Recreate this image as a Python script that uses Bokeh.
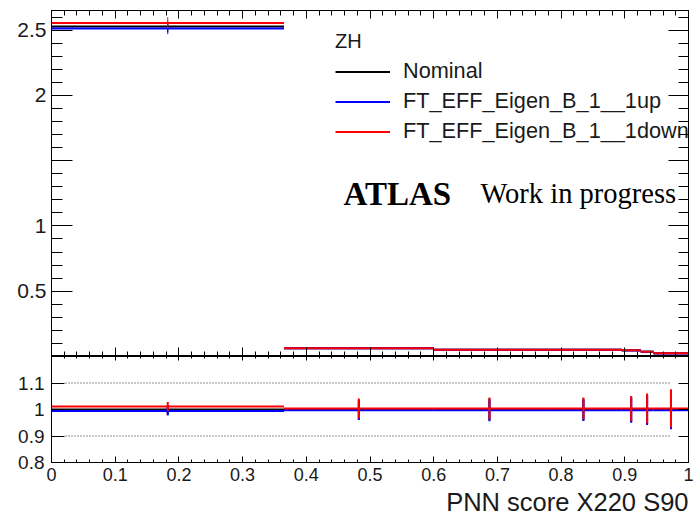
import numpy as np
from bokeh.plotting import figure
from bokeh.models import (Range1d, LinearAxis, SingleIntervalTicker, FixedTicker,
                          Label, Legend, LegendItem, CustomJSTickFormatter, Title)
from bokeh.layouts import column
from bokeh.embed import file_html
from bokeh.resources import INLINE

# ---------------- data ----------------
bin_edges = [0.0, 0.365, 0.6, 0.775, 0.895, 0.925, 0.945, 1.0]
nominal = [2.527, 0.0630, 0.0521, 0.0515, 0.0470, 0.0370, 0.0240]
var_1up = [2.512, 0.06281, 0.05194, 0.05135, 0.04686, 0.03689, 0.02393]
var_1down = [2.555, 0.06325, 0.05231, 0.05171, 0.04719, 0.03715, 0.02410]
rel_stat_err = [0.017, 0.037, 0.041, 0.041, 0.047, 0.056, 0.072]

series_names = ["Nominal", "FT_EFF_Eigen_B_1__1up", "FT_EFF_Eigen_B_1__1down"]
series_colors = ["black", "#0000ff", "#ff0000"]
legend_title = "ZH"
x_title = "PNN score X220 S90"
top_hidden_labels = [0, 1.5]
ratio_ref_levels = [0.9, 1.0, 1.1]
ratio_ref_x = [0.022, 0.972]
ratio_ticks = [0.8, 0.9, 1.0, 1.1]

FONT = "Liberation Sans"
SERIF = "Liberation Serif"
TXT = "#1a1a1a"

edges = np.array(bin_edges)
lo, hi = edges[:-1], edges[1:]
centers = 0.5 * (lo + hi)
nom = np.array(nominal)
series = [nom, np.array(var_1up), np.array(var_1down)]
rel = np.array(rel_stat_err)


def make_formatter(hidden=()):
    hid = ",".join(str(h) for h in hidden)
    code = ("const hid = [%s];\n"
            "for (const h of hid) { if (Math.abs(tick - h) < 1e-9) return ''; }\n"
            "return (Math.round(tick*1000)/1000).toString();") % hid
    return CustomJSTickFormatter(code=code)


def add_axis(fig, side, ticker, tick_in, minor_in, label_size=None, standoff=0, hidden=()):
    ax = LinearAxis(ticker=ticker, major_tick_in=tick_in, major_tick_out=0,
                    minor_tick_in=minor_in, minor_tick_out=0,
                    axis_line_color="black", major_tick_line_color="black",
                    minor_tick_line_color="black",
                    formatter=make_formatter(hidden))
    if label_size is None:
        ax.major_label_text_font_size = "0px"
        ax.major_label_standoff = 0
    else:
        ax.major_label_text_font_size = label_size
        ax.major_label_text_font = FONT
        ax.major_label_text_color = TXT
        ax.major_label_standoff = standoff
    fig.add_layout(ax, side)
    return ax


# ---------------- top panel ----------------
top = figure(width=695, height=356, x_range=Range1d(0, 1), y_range=Range1d(0, 2.65),
             output_backend="svg", toolbar_location=None,
             min_border_left=51, min_border_right=7, min_border_top=10, min_border_bottom=0,
             x_axis_location=None, y_axis_location=None)
top.xgrid.visible = False
top.ygrid.visible = False
top.outline_line_color = "black"
top.background_fill_color = "white"
top.border_fill_color = "white"

add_axis(top, "left", SingleIntervalTicker(interval=0.5, num_minor_ticks=5), 21, 11,
         label_size="21px", standoff=5, hidden=top_hidden_labels)
add_axis(top, "right", SingleIntervalTicker(interval=0.5, num_minor_ticks=5), 20, 10)
add_axis(top, "above", SingleIntervalTicker(interval=0.1, num_minor_ticks=5), 8, 5)
add_axis(top, "below", SingleIntervalTicker(interval=0.1, num_minor_ticks=5), 9, 5)

renderers = []
for vals, col in zip(series, series_colors):
    r = top.segment(x0=lo, x1=hi, y0=vals, y1=vals, line_color=col, line_width=2)
    err = vals * rel
    top.segment(x0=centers, x1=centers, y0=vals - err, y1=vals + err,
                line_color=col, line_width=1)
    renderers.append(r)

legend = Legend(items=[LegendItem(label=n, renderers=[r]) for n, r in zip(series_names, renderers)],
                title=legend_title, location=(284, 212),
                title_text_font=FONT, title_text_font_size="20px", title_text_font_style="normal",
                title_text_color=TXT, title_standoff=5,
                label_text_font=FONT, label_text_font_size="21.7px", label_text_color=TXT,
                glyph_width=55, glyph_height=25, label_height=25, label_standoff=13,
                spacing=4, padding=0, margin=0,
                border_line_alpha=0, background_fill_alpha=0)
top.add_layout(legend, "center")

top.add_layout(Label(x=292, y=163, x_units="screen", y_units="screen", text="ATLAS",
                     text_font=SERIF, text_font_style="bold", text_font_size="33px",
                     text_color="black", text_baseline="alphabetic"))
top.add_layout(Label(x=429, y=163, x_units="screen", y_units="screen", text="Work in progress",
                     text_font=SERIF, text_font_size="28.5px",
                     text_color="black", text_baseline="alphabetic"))

# ---------------- ratio panel ----------------
bot = figure(width=695, height=165, x_range=top.x_range, y_range=Range1d(0.8, 1.2),
             output_backend="svg", toolbar_location=None,
             min_border_left=51, min_border_right=7, min_border_top=0, min_border_bottom=59,
             x_axis_location=None, y_axis_location=None)
bot.xgrid.visible = False
bot.ygrid.visible = False
bot.outline_line_color = "black"
bot.background_fill_color = "white"
bot.border_fill_color = "white"

add_axis(bot, "left", FixedTicker(ticks=ratio_ticks, minor_ticks=[]), 13, 0,
         label_size="19px", standoff=7)
add_axis(bot, "right", FixedTicker(ticks=ratio_ticks, minor_ticks=[]), 10, 0)
add_axis(bot, "above", SingleIntervalTicker(interval=0.1, num_minor_ticks=5), 4, 2)
add_axis(bot, "below", SingleIntervalTicker(interval=0.1, num_minor_ticks=5), 6, 3,
         label_size="18px", standoff=5)

for i, (vals, col) in enumerate(zip(series, series_colors)):
    ratio = vals / nom
    err = ratio * rel
    bot.segment(x0=lo, x1=hi, y0=ratio, y1=ratio, line_color=col, line_width=2)
    bot.segment(x0=centers, x1=centers, y0=ratio - err, y1=ratio + err,
                line_color=col, line_width=2)
    if i == 0:
        bot.segment(x0=[ratio_ref_x[0]] * len(ratio_ref_levels),
                    x1=[ratio_ref_x[1]] * len(ratio_ref_levels),
                    y0=ratio_ref_levels, y1=ratio_ref_levels,
                    line_color="#222222", line_width=1, line_dash="1 2")

bot.add_layout(Title(text=x_title, align="right", text_font=FONT, text_font_size="25.5px",
                     text_font_style="normal", text_color=TXT, standoff=5), "below")

layout = column(top, bot, spacing=0)
open("out.html", "w").write(file_html(layout, INLINE))
